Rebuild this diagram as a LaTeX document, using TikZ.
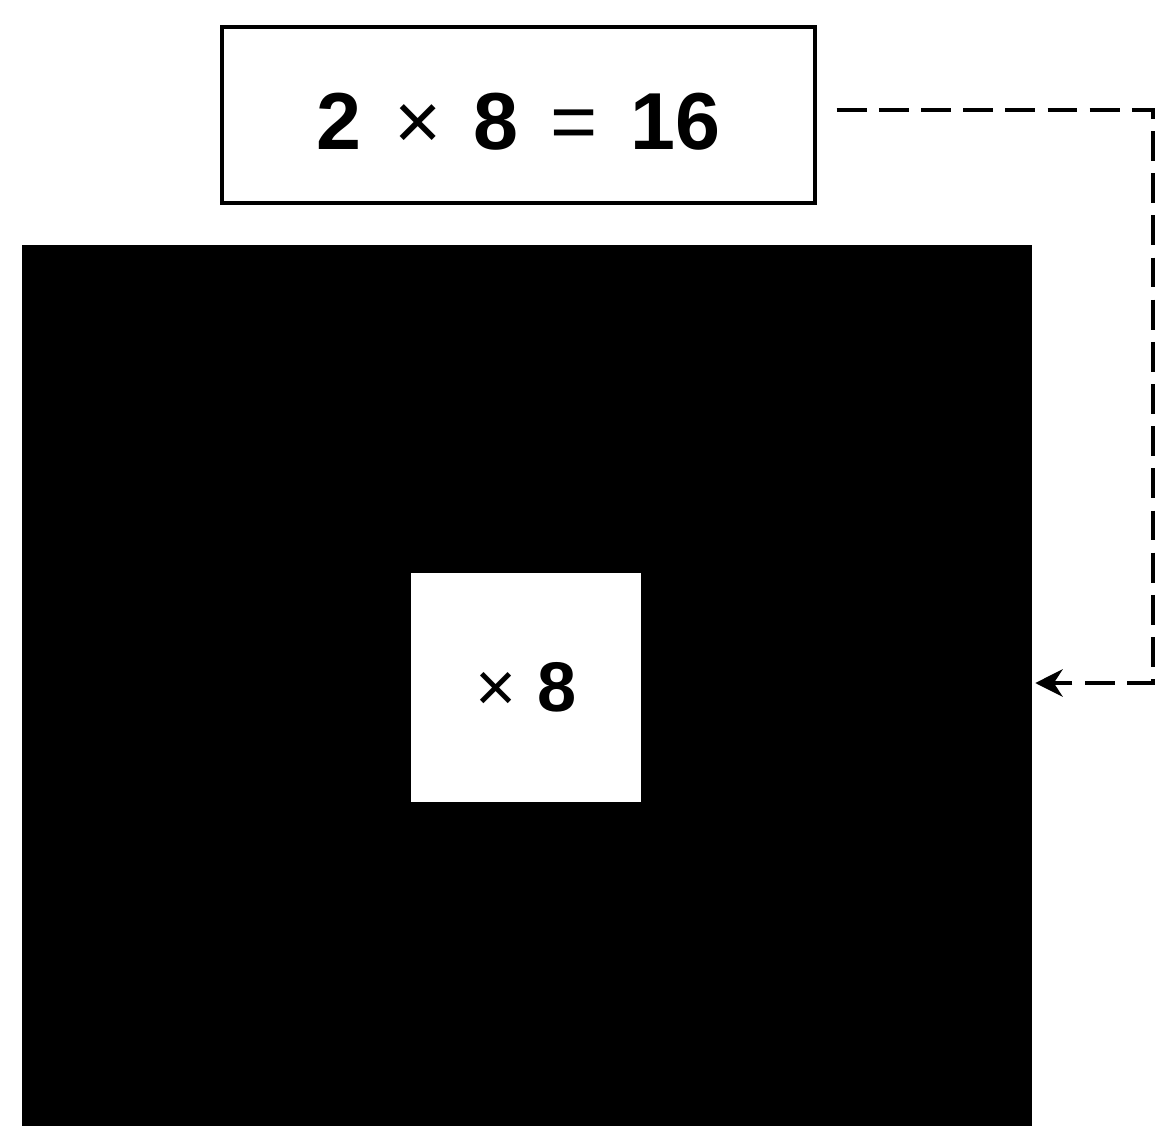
\documentclass[tikz,border=0pt]{standalone}
\usepackage{fontspec}
\setmainfont{Liberation Sans}
\usetikzlibrary{arrows.meta, calc}

\begin{document}
\begin{tikzpicture}[
    x=0.02cm, y=-0.02cm,
    >={Stealth[length=0.55cm, width=0.55cm]},
    % styles for the boxes
    sum_box/.style={rectangle, draw, line width=2pt, minimum width=11.86cm, minimum height=3.52cm, text height=1.5cm, text depth=0.1cm, font=\fontsize{46}{48}\selectfont\bfseries},
    field_box/.style={rectangle, fill=black, minimum width=20.2cm, minimum height=17.62cm, inner sep=0pt},
    lens_box/.style={rectangle, fill=white, minimum width=4.6cm, minimum height=4.58cm, font=\fontsize{40}{42}\selectfont\bfseries},
    link/.style={dash pattern=on 17pt off 7pt, line width=1.8pt}
]
    \useasboundingbox (0,0) rectangle (1156,1126);

    % --- Boxes ---
    \node[sum_box] (sum) at (518.5,115) {2\hspace{0.4em}{\mdseries×}\hspace{0.4em}8\hspace{0.4em}{\mdseries=}\hspace{0.4em}16};
    \node[field_box] (field) at (527,685.5) {};
    \node[lens_box] (lens) at (526,687.5) {{\mdseries×}\hspace{0.3em}8};

    % --- Dashed feedback link ---
    \coordinate (turn) at (1153,110);
    \draw[link, ->] ($(sum.east)+(20,-5)$) -- (turn) |- ($(field.east)+(3,-2.5)$);

\end{tikzpicture}
\end{document}
